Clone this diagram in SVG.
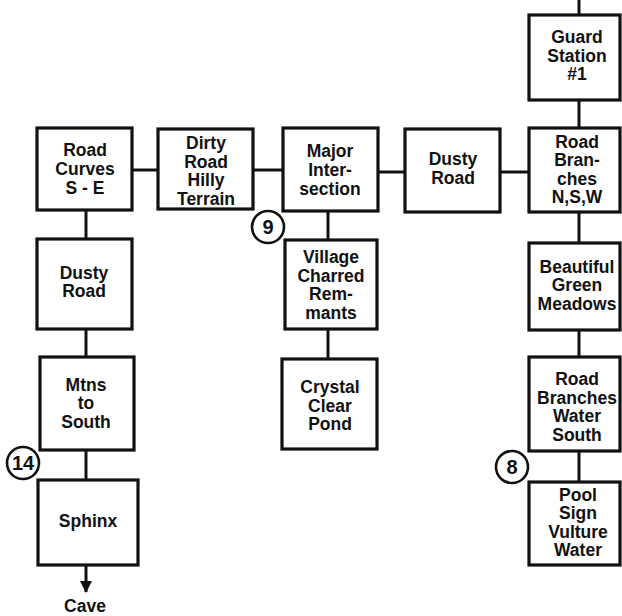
<svg xmlns="http://www.w3.org/2000/svg" width="622" height="616" viewBox="0 0 622 616">
<style>
.box{fill:#fff;stroke:#111;stroke-width:3.2}
.t{font-family:"Liberation Sans",Arial,sans-serif;font-weight:bold;font-size:17.5px;fill:#111;text-anchor:middle}
.n{font-size:20px}
.c{fill:none;stroke:#111;stroke-width:3}
.circ{fill:#fff;stroke:#111;stroke-width:2.6}
</style>
<defs>
<marker id="arr" markerWidth="12" markerHeight="14" refX="11" refY="6" orient="auto" markerUnits="userSpaceOnUse" viewBox="0 0 12 12">
<path d="M0,0 L12,6 L0,12 Z" fill="#111"/>
</marker>
</defs>
<rect width="622" height="616" fill="#fff"/>
<g id="connectors">
<line class="c" x1="132" y1="170" x2="158" y2="170"/>
<line class="c" x1="253" y1="170" x2="283" y2="170"/>
<line class="c" x1="378" y1="172" x2="405" y2="172"/>
<line class="c" x1="500" y1="172" x2="529" y2="172"/>
<line class="c" x1="86" y1="210" x2="86" y2="239"/>
<line class="c" x1="86" y1="329" x2="86" y2="357"/>
<line class="c" x1="86" y1="450" x2="86" y2="480"/>
<line class="c" x1="86" y1="565" x2="86" y2="592" marker-end="url(#arr)"/>
<line class="c" x1="328" y1="211" x2="328" y2="240"/>
<line class="c" x1="328" y1="329" x2="328" y2="359"/>
<line class="c" x1="579" y1="0" x2="579" y2="15"/>
<line class="c" x1="579" y1="100" x2="579" y2="128"/>
<line class="c" x1="579" y1="212" x2="579" y2="243"/>
<line class="c" x1="579" y1="330" x2="579" y2="357"/>
<line class="c" x1="579" y1="451" x2="579" y2="482"/>
</g>
<g id="road-curves">
<rect class="box" x="37" y="128" width="95" height="82"/>
<text class="t"><tspan x="85" y="156">Road</tspan><tspan x="85" y="175">Curves</tspan><tspan x="85" y="194">S - E</tspan></text>
</g>
<g id="dirty-road">
<rect class="box" x="158" y="129" width="95" height="80"/>
<text class="t"><tspan x="206" y="149">Dirty</tspan><tspan x="206" y="167.5">Road</tspan><tspan x="206" y="186">Hilly</tspan><tspan x="206" y="204.5">Terrain</tspan></text>
</g>
<g id="major-intersection">
<rect class="box" x="283" y="128" width="95" height="83"/>
<text class="t"><tspan x="330" y="157">Major</tspan><tspan x="330" y="176">Inter-</tspan><tspan x="330" y="194.5">section</tspan></text>
</g>
<g id="dusty-road-top">
<rect class="box" x="405" y="129" width="95" height="83"/>
<text class="t"><tspan x="453" y="165">Dusty</tspan><tspan x="453" y="183.5">Road</tspan></text>
</g>
<g id="guard-station">
<rect class="box" x="529" y="15" width="91" height="85"/>
<text class="t"><tspan x="577" y="43">Guard</tspan><tspan x="577" y="61.5">Station</tspan><tspan x="577" y="80">#1</tspan></text>
</g>
<g id="road-branches-nsw">
<rect class="box" x="529" y="128" width="91" height="84"/>
<text class="t"><tspan x="577" y="147.5">Road</tspan><tspan x="577" y="166">Bran-</tspan><tspan x="577" y="184.5">ches</tspan><tspan x="577" y="203">N,S,W</tspan></text>
</g>
<g id="dusty-road-left">
<rect class="box" x="37" y="239" width="95" height="90"/>
<text class="t"><tspan x="84" y="278.5">Dusty</tspan><tspan x="84" y="297">Road</tspan></text>
</g>
<g id="mtns-south">
<rect class="box" x="40" y="357" width="94" height="93"/>
<text class="t"><tspan x="86" y="390.5">Mtns</tspan><tspan x="86" y="409">to</tspan><tspan x="86" y="427.5">South</tspan></text>
</g>
<g id="sphinx">
<rect class="box" x="38" y="480" width="100" height="85"/>
<text class="t"><tspan x="88" y="526.5">Sphinx</tspan></text>
</g>
<g id="cave">
<text class="t"><tspan x="85" y="612">Cave</tspan></text>
</g>
<g id="village">
<rect class="box" x="285" y="240" width="92" height="89"/>
<text class="t"><tspan x="331" y="263">Village</tspan><tspan x="331" y="281.5">Charred</tspan><tspan x="331" y="300">Rem-</tspan><tspan x="331" y="318.5">mants</tspan></text>
</g>
<g id="crystal-pond">
<rect class="box" x="282" y="359" width="95" height="90"/>
<text class="t"><tspan x="330" y="393">Crystal</tspan><tspan x="330" y="411.5">Clear</tspan><tspan x="330" y="430">Pond</tspan></text>
</g>
<g id="green-meadows">
<rect class="box" x="529" y="243" width="91" height="87"/>
<text class="t"><tspan x="577" y="272.5">Beautiful</tspan><tspan x="577" y="291">Green</tspan><tspan x="577" y="309.5">Meadows</tspan></text>
</g>
<g id="road-branches-water">
<rect class="box" x="529" y="357" width="91" height="94"/>
<text class="t"><tspan x="577" y="385">Road</tspan><tspan x="577" y="403.5">Branches</tspan><tspan x="577" y="422">Water</tspan><tspan x="577" y="440.5">South</tspan></text>
</g>
<g id="pool-sign">
<rect class="box" x="529" y="482" width="91" height="83"/>
<text class="t"><tspan x="578" y="500.5">Pool</tspan><tspan x="578" y="519">Sign</tspan><tspan x="578" y="537.5">Vulture</tspan><tspan x="578" y="556">Water</tspan></text>
</g>
<g id="marker-9">
<circle class="circ" cx="268" cy="227" r="16"/>
<text class="t n" x="268" y="234">9</text>
</g>
<g id="marker-14">
<circle class="circ" cx="23" cy="463" r="16"/>
<text class="t n" x="23" y="470">14</text>
</g>
<g id="marker-8">
<circle class="circ" cx="512" cy="467" r="16"/>
<text class="t n" x="512" y="474">8</text>
</g>
</svg>
